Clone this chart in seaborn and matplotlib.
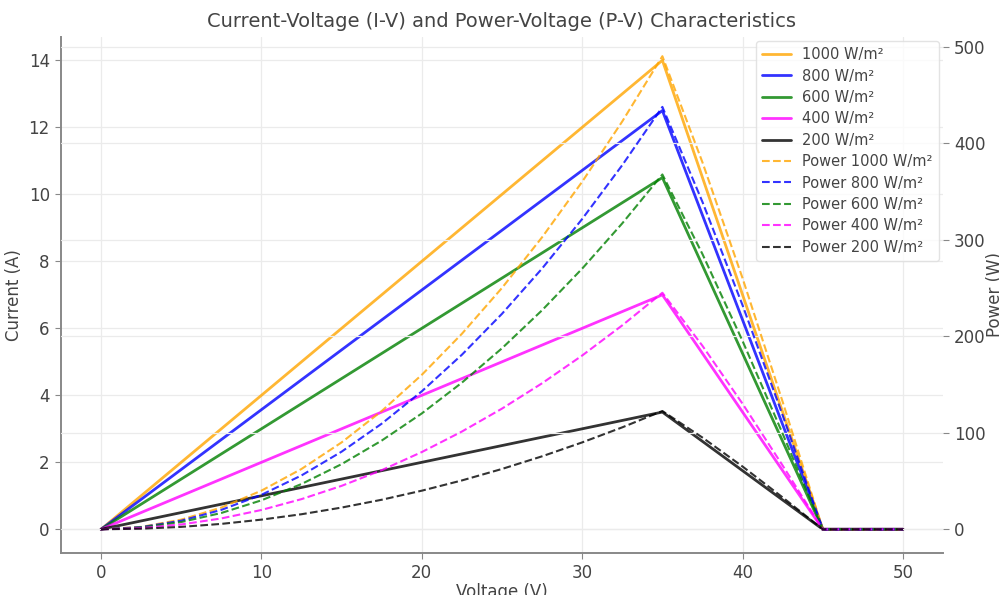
import numpy as np
import pandas as pd
import matplotlib
matplotlib.use("Agg")
import matplotlib.pyplot as plt
import seaborn as sns

# ---- data ----
irradiance_labels = ["1000 W/m²", "800 W/m²", "600 W/m²", "400 W/m²", "200 W/m²"]
colors = ["orange", "blue", "green", "magenta", "black"]

# I-V curves: knee points
voltage_iv = [0, 35, 45, 50]
current_1000 = [0, 14.0, 0, 0]
current_800 = [0, 12.5, 0, 0]
current_600 = [0, 10.5, 0, 0]
current_400 = [0, 7.0, 0, 0]
current_200 = [0, 3.5, 0, 0]

# P-V curves
voltage_pv = [0, 2.5, 5, 7.5, 10, 12.5, 15, 17.5, 20, 22.5, 25, 27.5, 30, 32.5, 35,
              37.5, 40, 42.5, 45, 47.5, 50]
power_1000 = [0, 2.5, 10, 22.5, 40, 62.5, 90, 122.5, 160, 202.5, 250, 302.5, 360, 422.5, 490,
              380, 260, 132, 0, 0, 0]
power_800 = [0, 2.2, 8.9, 20.1, 35.7, 55.8, 80.4, 109.4, 142.9, 180.8, 223.2, 270.1, 321.4, 377.2, 437.5,
             339, 232, 118, 0, 0, 0]
power_600 = [0, 1.9, 7.5, 16.9, 30, 46.9, 67.5, 91.9, 120, 151.9, 187.5, 226.9, 270, 316.9, 367.5,
             285, 195, 99, 0, 0, 0]
power_400 = [0, 1.25, 5, 11.25, 20, 31.25, 45, 61.25, 80, 101.25, 125, 151.25, 180, 211.25, 245,
             190, 130, 66, 0, 0, 0]
power_200 = [0, 0.6, 2.5, 5.6, 10, 15.6, 22.5, 30.6, 40, 50.6, 62.5, 75.6, 90, 105.6, 122.5,
             95, 65, 33, 0, 0, 0]

currents = [current_1000, current_800, current_600, current_400, current_200]
powers = [power_1000, power_800, power_600, power_400, power_200]

# ---- style ----
sns.set_theme(style="whitegrid")
plt.rcParams["font.family"] = ["DejaVu Sans"]
text_col = "#444444"
plt.rcParams.update({
    "grid.color": "#ebebeb",
    "grid.linewidth": 0.9,
    "axes.edgecolor": "#888888",
    "xtick.color": text_col,
    "ytick.color": text_col,
    "axes.labelcolor": text_col,
    "text.color": text_col,
})

fig = plt.figure(figsize=(9.99, 5.95), dpi=100)
ax1 = fig.add_axes([0.061, 0.071, 0.883, 0.867])
ax2 = ax1.twinx()

for lab, col, cur in zip(irradiance_labels, colors, currents):
    df = pd.DataFrame({"Voltage": voltage_iv, "Current": cur})
    sns.lineplot(data=df, x="Voltage", y="Current", ax=ax1, color=col, linewidth=2,
                 alpha=0.8, label=lab, legend=False)

for lab, col, pw in zip(irradiance_labels, colors, powers):
    df = pd.DataFrame({"Voltage": voltage_pv, "Power": pw})
    sns.lineplot(data=df, x="Voltage", y="Power", ax=ax2, color=col, linewidth=1.5,
                 linestyle="--", alpha=0.8, label="Power " + lab, legend=False)

ax1.set_xlim(-2.5, 52.5)
ax1.set_ylim(-0.7, 14.7)
ax2.set_ylim(-24.3, 510)
ax1.set_xticks([0, 10, 20, 30, 40, 50])
ax1.set_yticks([0, 2, 4, 6, 8, 10, 12, 14])
ax2.set_yticks([0, 100, 200, 300, 400, 500])

for ax in (ax1, ax2):
    for s in ("top", "right"):
        ax.spines[s].set_visible(False)
    ax.tick_params(labelsize=12, length=4, width=0.8, color="#888888", pad=4)
ax2.spines["left"].set_visible(False)
ax2.spines["bottom"].set_visible(False)
ax1.spines["left"].set_linewidth(1.4)
ax1.spines["bottom"].set_linewidth(1.4)
ax1.tick_params(axis="both", which="both", left=True, bottom=True)
ax2.tick_params(axis="y", right=True)
ax2.grid(True, color="#ebebeb", linewidth=0.9)

ax1.set_xlabel("Voltage (V)", fontsize=12, labelpad=1)
ax1.set_ylabel("Current (A)", fontsize=12)
ax2.set_ylabel("Power (W)", fontsize=12, labelpad=0)
ax1.set_title("Current-Voltage (I-V) and Power-Voltage (P-V) Characteristics", fontsize=14, pad=7)

h1, l1 = ax1.get_legend_handles_labels()
h2, l2 = ax2.get_legend_handles_labels()
leg = ax2.legend(h1 + h2, l1 + l2, loc="upper right", fontsize=10.5, frameon=True,
                 borderaxespad=0.3, labelspacing=0.44, labelcolor=text_col)
leg.get_frame().set_edgecolor("#dddddd")

fig.savefig("out.png", dpi=100)
